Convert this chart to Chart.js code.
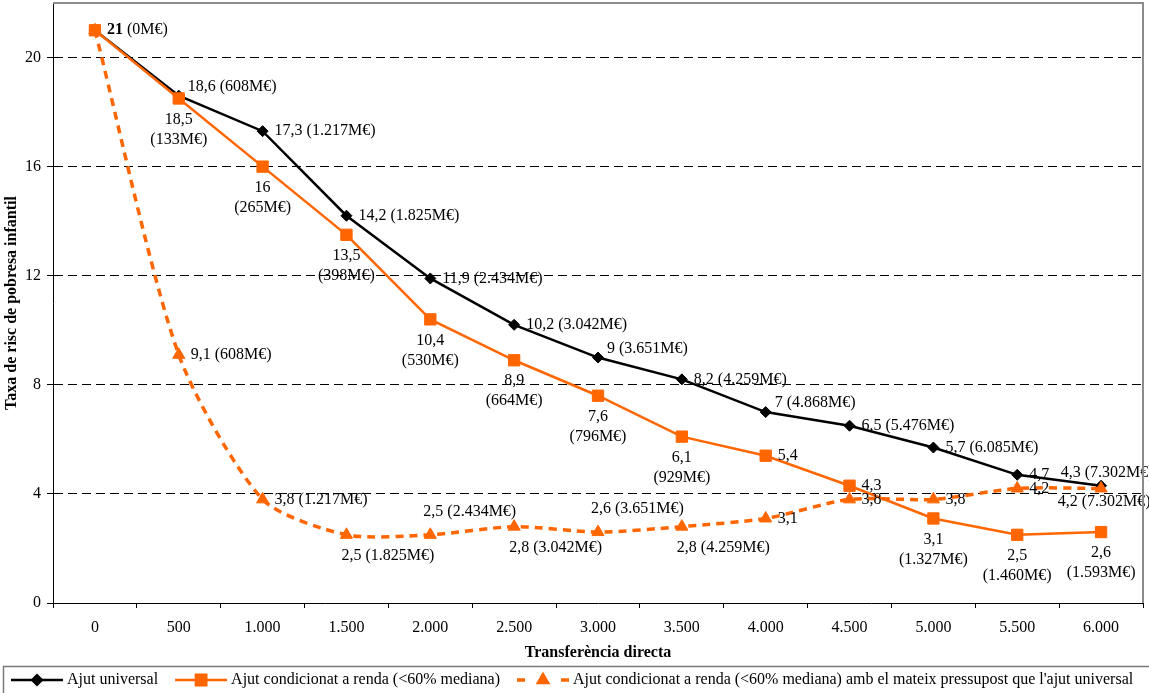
<!DOCTYPE html>
<html>
<head>
<meta charset="utf-8">
<script src="https://cdn.jsdelivr.net/npm/chart.js@4/dist/chart.umd.min.js"></script>
<style>
  html, body { margin: 0; padding: 0; background: #fff; }
  #wrap { width: 1149px; height: 693px; }
</style>
</head>
<body>
<div id="wrap"><canvas id="chart" width="1149" height="693"></canvas></div>
<script>
// Transfer amount per child (€/year)
const categories = ['0', '500', '1.000', '1.500', '2.000', '2.500', '3.000', '3.500', '4.000', '4.500', '5.000', '5.500', '6.000'];

// Child poverty risk rate (%) and the budget each scenario costs (M€)
const universal      = [21, 18.6, 17.3, 14.2, 11.9, 10.2, 9, 8.2, 7, 6.5, 5.7, 4.7, 4.3];
const universalCost  = [0, 608, 1217, 1825, 2434, 3042, 3651, 4259, 4868, 5476, 6085, null, 7302];

const conditional     = [21, 18.5, 16, 13.5, 10.4, 8.9, 7.6, 6.1, 5.4, 4.3, 3.1, 2.5, 2.6];
const conditionalCost = [null, 133, 265, 398, 530, 664, 796, 929, null, null, 1327, 1460, 1593];

const sameBudget     = [21, 9.1, 3.8, 2.5, 2.5, 2.8, 2.6, 2.8, 3.1, 3.8, 3.8, 4.2, 4.2];
const sameBudgetCost = [null, 608, 1217, 1825, 2434, 3042, 3651, 4259, null, null, null, null, 7302];

// Where each point label sits relative to its marker
const universalPlace   = ['first', 'ru', 'r', 'r', 'r', 'r', 'ru', 'r', 'ru', 'r', 'r', 'r', 'a'];
const conditionalPlace = [null, 'b', 'b', 'b', 'b', 'b', 'b', 'b', 'r', 'r', 'b', 'b', 'b'];
const sameBudgetPlace  = [null, 'r', 'r', 'bs', 'as', 'bs', 'as', 'bs', 'r', 'r', 'r', 'r', 'bn'];

const yTicks = { min: 0, max: 22, step: 4 };

const ORANGE = '#FF6600';
const FONT = "'Liberation Serif', 'Times New Roman', serif";

const fmtValue = v => String(v).replace('.', ',');
const fmtCost = c => String(c).replace(/\B(?=(\d{3})+(?!\d))/g, '.') + 'M€';

function labelLines(v, cost, stacked) {
  if (cost === null || cost === undefined) return [fmtValue(v)];
  return stacked ? [fmtValue(v), '(' + fmtCost(cost) + ')'] : [fmtValue(v) + ' (' + fmtCost(cost) + ')'];
}

const PLACE = {
  r:  { dx: 12, dy: 0,   align: 'left' },
  ru: { dx: 9,  dy: -9,  align: 'left' },
  a:  { dx: 6,  dy: -13, align: 'center' },
  b:  { dx: 0,  dy: 21,  align: 'center' },
  bn: { dx: 3,  dy: 13,  align: 'center' },
  bs: { dx: -5, dy: 21,  align: 'left' },
  as: { dx: -7, dy: -23, align: 'left' }
};

// Value labels next to the markers
const pointLabels = {
  id: 'pointLabels',
  afterDatasetsDraw(chart) {
    const ctx = chart.ctx;
    ctx.save();
    ctx.fillStyle = '#000';
    ctx.textBaseline = 'middle';
    chart.data.datasets.forEach((ds, i) => {
      const meta = chart.getDatasetMeta(i);
      ds.data.forEach((v, j) => {
        const place = ds.labelPlace[j];
        if (!place) return;
        const el = meta.data[j];
        if (place === 'first') {
          const x = el.x + 12;
          ctx.textAlign = 'left';
          ctx.font = 'bold 16px ' + FONT;
          const head = fmtValue(v);
          ctx.fillText(head, x, el.y);
          const w = ctx.measureText(head).width;
          ctx.font = '16px ' + FONT;
          ctx.fillText(' (' + fmtCost(ds.labelCost[j]) + ')', x + w, el.y);
          return;
        }
        const p = PLACE[place];
        const lines = labelLines(v, ds.labelCost[j], ds.stackLabel);
        ctx.font = '16px ' + FONT;
        ctx.textAlign = p.align;
        lines.forEach((t, k) => ctx.fillText(t, el.x + p.dx, el.y + p.dy + k * 20));
      });
    });
    ctx.restore();
  }
};

// Legend sample: a short line with the series marker in its middle
function drawSample(ctx, x, y, w, ds) {
  ctx.save();
  ctx.strokeStyle = ds.borderColor;
  ctx.lineWidth = ds.borderWidth;
  if (ds.borderDash) ctx.setLineDash([8, w - 16]);
  ctx.beginPath();
  ctx.moveTo(x, y);
  ctx.lineTo(x + w, y);
  ctx.stroke();
  ctx.restore();
  Chart.helpers.drawPoint(ctx, {
    pointStyle: ds.pointStyle,
    radius: ds.pointRadius,
    borderWidth: 1,
    rotation: 0
  }, x + w / 2, y);
}

const boxedLegend = {
  id: 'boxedLegend',
  afterDraw(chart) {
    const ctx = chart.ctx;
    const top = 666;
    ctx.save();
    ctx.strokeStyle = '#7a7a7a';
    ctx.lineWidth = 1.5;
    ctx.strokeRect(3.5, top + 0.5, 1160, 60);
    ctx.font = '16px ' + FONT;
    ctx.textBaseline = 'middle';
    ctx.textAlign = 'left';
    let x = 11;
    const y = 680;
    chart.data.datasets.forEach(ds => {
      ctx.fillStyle = ds.pointBackgroundColor;
      ctx.strokeStyle = ds.pointBorderColor;
      drawSample(ctx, x, y, 52, ds);
      ctx.fillStyle = '#000';
      ctx.fillText(ds.label, x + 56, y);
      x += 56 + ctx.measureText(ds.label).width + 17;
    });
    ctx.restore();
  }
};

// Grey frame on the top and right of the plot area
const plotFrame = {
  id: 'plotFrame',
  afterDraw(chart) {
    const { left, top, right, bottom } = chart.chartArea;
    const ctx = chart.ctx;
    ctx.save();
    ctx.strokeStyle = '#8c8c8c';
    ctx.lineWidth = 2;
    ctx.beginPath();
    ctx.moveTo(left, top);
    ctx.lineTo(right, top);
    ctx.lineTo(right, bottom);
    ctx.stroke();
    ctx.restore();
  }
};

Chart.defaults.font.family = FONT;
Chart.defaults.font.size = 16;
Chart.defaults.color = '#000';

new Chart(document.getElementById('chart'), {
  type: 'line',
  data: {
    labels: categories,
    datasets: [
      {
        label: 'Ajut universal',
        data: universal,
        labelCost: universalCost,
        labelPlace: universalPlace,
        stackLabel: false,
        borderColor: '#000',
        borderWidth: 2.5,
        pointStyle: 'rectRot',
        pointRadius: 5.5,
        pointBackgroundColor: '#000',
        pointBorderColor: '#000',
        pointBorderWidth: 1,
        tension: 0,
        order: 3
      },
      {
        label: 'Ajut condicionat a renda (<60% mediana)',
        data: conditional,
        labelCost: conditionalCost,
        labelPlace: conditionalPlace,
        stackLabel: true,
        borderColor: ORANGE,
        borderWidth: 2.5,
        pointStyle: 'rect',
        pointRadius: 8,
        pointBackgroundColor: ORANGE,
        pointBorderColor: ORANGE,
        pointBorderWidth: 1,
        tension: 0,
        order: 1
      },
      {
        label: "Ajut condicionat a renda (<60% mediana) amb el mateix pressupost que l'ajut universal",
        data: sameBudget,
        labelCost: sameBudgetCost,
        labelPlace: sameBudgetPlace,
        stackLabel: false,
        borderColor: ORANGE,
        borderWidth: 3.5,
        borderDash: [8, 6],
        pointStyle: 'triangle',
        pointRadius: 7,
        pointBackgroundColor: ORANGE,
        pointBorderColor: ORANGE,
        pointBorderWidth: 1,
        tension: 0.25,
        order: 2
      }
    ]
  },
  options: {
    responsive: false,
    animation: false,
    events: [],
    layout: { autoPadding: false, padding: { left: 0, top: 3, right: 6, bottom: 28 } },
    plugins: {
      legend: { display: false },
      tooltip: { enabled: false }
    },
    scales: {
      x: {
        type: 'category',
        offset: true,
        afterFit(scale) {
          scale.height = 62;
          scale.paddingLeft = 0;
          scale.paddingRight = 0;
        },
        grid: {
          offset: true,
          drawOnChartArea: false,
          tickLength: 5,
          tickColor: '#000',
          tickWidth: 1
        },
        border: { color: '#000', width: 1 },
        ticks: { autoSkip: false, maxRotation: 0, padding: 10, font: { size: 16 } },
        title: {
          display: true,
          text: 'Transferència directa',
          font: { size: 16, weight: 'bold' },
          padding: { top: 0, bottom: 3 }
        }
      },
      y: {
        min: yTicks.min,
        max: yTicks.max,
        afterFit(scale) {
          scale.width = 53;
          scale.paddingTop = 0;
          scale.paddingBottom = 0;
        },
        ticks: { stepSize: yTicks.step, includeBounds: false, padding: 6, font: { size: 16 } },
        grid: {
          color: c => (c.tick && c.tick.value === 0 ? 'rgba(0,0,0,0)' : '#000'),
          lineWidth: 1,
          tickLength: 6,
          tickColor: '#000',
          tickWidth: 1,
          tickBorderDash: []
        },
        border: { color: '#000', width: 1, dash: [9, 5] },
        title: {
          display: true,
          text: 'Taxa de risc de pobresa infantil',
          font: { size: 16, weight: 'bold' },
          padding: { top: 2, bottom: 0 }
        }
      }
    }
  },
  plugins: [pointLabels, boxedLegend, plotFrame]
});
</script>
</body>
</html>
